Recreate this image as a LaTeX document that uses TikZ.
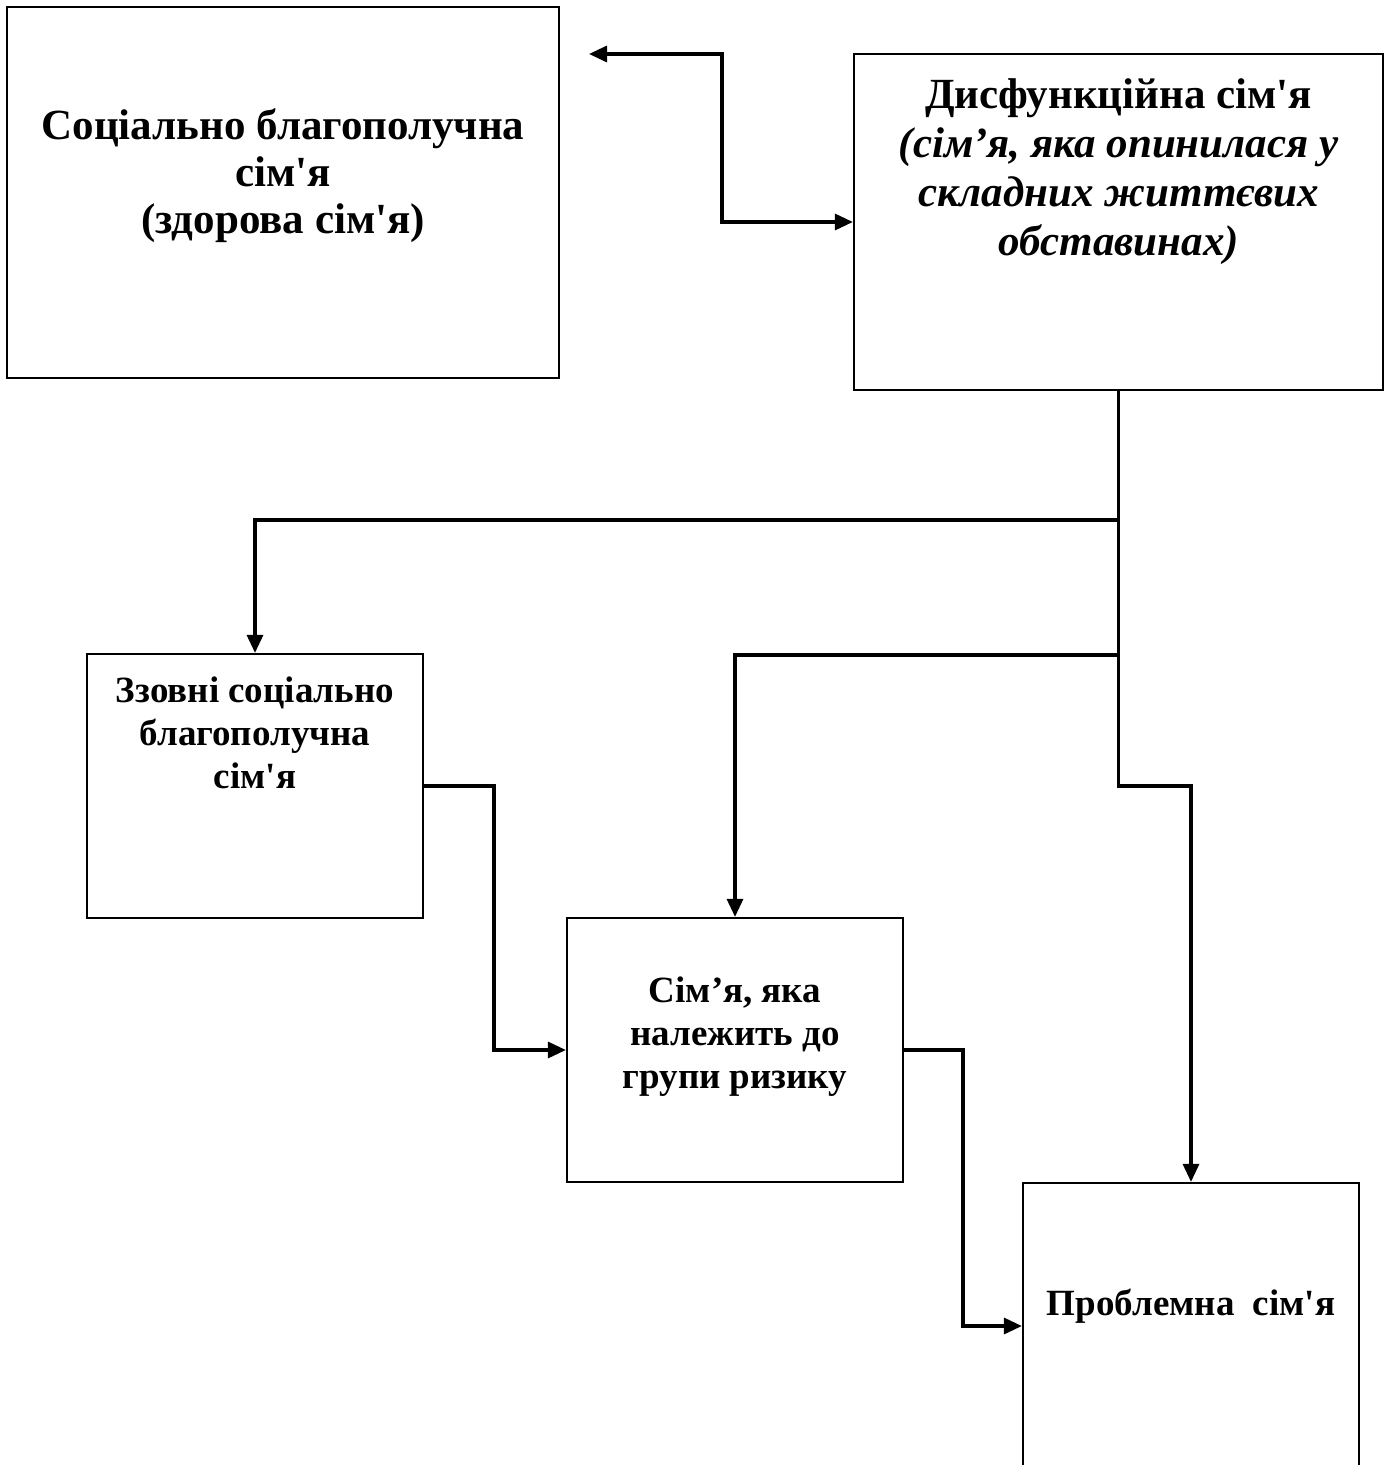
\documentclass[tikz,border=0pt]{standalone}
\usepackage{fontspec}
\newfontfamily\tnr{Liberation Serif}
\usetikzlibrary{arrows.meta}
\begin{document}
\begin{tikzpicture}[x=0.5pt,y=-0.5pt,
  box/.style={draw=black,line width=1.1pt,inner sep=0pt,fill=none},
  big/.style={font=\tnr\bfseries\fontsize{21.5}{23.5}\selectfont,align=center,inner sep=0pt},
  small/.style={font=\tnr\bfseries\fontsize{18.5}{21.5}\selectfont,align=center,inner sep=0pt},
  tip/.style={Triangle[length=9pt,width=8pt]},
  link/.style={line width=1.6pt,-{Triangle[length=9pt,width=8pt]}},
  dlink/.style={line width=1.6pt,{Triangle[length=9pt,width=8pt]}-{Triangle[length=9pt,width=8pt]}}]
\useasboundingbox (0,0) rectangle (1387,1465);
\clip (0,0) rectangle (1387,1465);
\fill[white] (0,0) rectangle (1387,1465);

% boxes
\node[box,minimum width=276pt,minimum height=185.5pt] (A) at (283,192.5) {};
\node[box,minimum width=264.5pt,minimum height=168pt] (B) at (1118.5,222) {};
\node[box,minimum width=168pt,minimum height=132pt] (C) at (255,786) {};
\node[box,minimum width=168pt,minimum height=132pt] (D) at (735,1050) {};
\node[box,minimum width=168pt,minimum height=143pt] (E) at (1191,1326) {};

% labels
\node[big] (At) at (283,176) {Соціально благополучна\\сім'я\\(здорова сім'я)};
\node[big,font=\tnr\bfseries\fontsize{21.5}{24.5}\selectfont] (Bt) at (1118.5,172)
  {Дисфункційна сім'я\\\itshape(сім’я, яка опинилася у\\\itshape складних життєвих\\\itshape обставинах)};
\node[small] (Ct) at (255,733) {Ззовні соціально\\благополучна\\сім'я};
\node[small] (Dt) at (735,1037) {Сім’я, яка\\належить до\\групи ризику};
\node[small] (Et) at (1191,1306) {Проблемна\ \ сім'я};

% connectors
\coordinate (Atip) at (589,54);
\draw[dlink] (Atip) -- (722,54) |- (B.west);
\draw[link] (B.south) -- (B.south |- 0,520) -| (C.north);
\draw[link] (B.south) -- (B.south |- 0,655) -| (D.north);
\draw[link] (B.south) -- (B.south |- 0,786) -| (E.north);
\draw[link] (C.east) -- (494,786) |- (D.west);
\draw[link] (D.east) -- (963,1050) |- (E.west);
\end{tikzpicture}
\end{document}
